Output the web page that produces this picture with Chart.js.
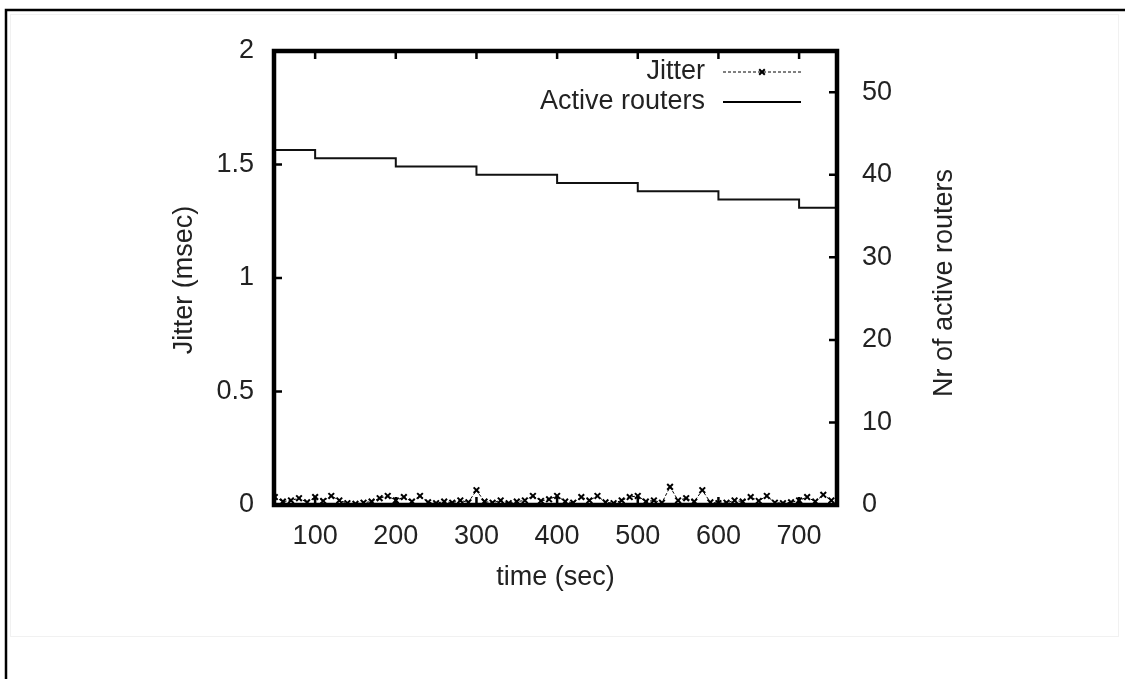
<!DOCTYPE html>
<html><head><meta charset="utf-8">
<script src="https://cdn.jsdelivr.net/npm/chart.js@4.4.0/dist/chart.umd.min.js"></script>
<style>html,body{margin:0;padding:0;background:#fff;overflow:hidden}#wrap{position:relative;width:1125px;height:679px}</style>
</head><body><div id="wrap"><canvas id="c" width="1125" height="679"></canvas></div>
<script>
// ---- data ----
const jitterTimes = [50,60,70,80,90,100,110,120,130,140,150,160,170,180,190,200,210,220,230,240,250,260,270,280,290,300,310,320,330,340,350,360,370,380,390,400,410,420,430,440,450,460,470,480,490,500,510,520,530,540,550,560,570,580,590,600,610,620,630,640,650,660,670,680,690,700,710,720,730,740];
const jitterValues = [0.035,0.015,0.02,0.03,0.012,0.035,0.018,0.04,0.02,0.008,0.005,0.01,0.015,0.03,0.04,0.02,0.035,0.015,0.04,0.012,0.008,0.015,0.01,0.02,0.012,0.065,0.015,0.01,0.02,0.008,0.015,0.02,0.04,0.018,0.025,0.04,0.015,0.01,0.035,0.02,0.04,0.012,0.008,0.02,0.035,0.04,0.015,0.02,0.01,0.08,0.02,0.03,0.015,0.065,0.012,0.008,0.01,0.02,0.015,0.035,0.018,0.04,0.01,0.008,0.012,0.02,0.035,0.015,0.045,0.02];
const routerTimes = [49,100,200,300,400,500,600,700,747];
const routerCounts = [43,42,41,40,39,38,37,36,36];
const xTickValues = [100,200,300,400,500,600,700];
const yLeftTicks = [0,0.5,1,1.5,2];
const yRightTicks = [0,10,20,30,40,50];
const seriesLabels = ['Jitter','Active routers'];
const axisTitles = {x:'time (sec)', y:'Jitter (msec)', y2:'Nr of active routers'};

const FONT = '"Liberation Sans", Arial, sans-serif';
const TXT = '#222';
const FS = 27;

const framePlugin = {
  id:'frame',
  beforeDraw(chart){
    const c = chart.ctx;
    c.save();
    c.fillStyle='#fff'; c.fillRect(0,0,chart.width,chart.height);
    c.strokeStyle='#f1f1f1'; c.lineWidth=1;
    c.strokeRect(10.5,14.5,1108,622);
    c.strokeStyle='#000'; c.lineWidth=2.5;
    c.beginPath(); c.moveTo(6,679); c.lineTo(6,10); c.lineTo(1125,10); c.stroke();
    c.restore();
  },
  afterDatasetsDraw(chart){
    const c = chart.ctx, a = chart.chartArea, s = chart.scales;
    c.save();
    c.strokeStyle='#000'; c.lineWidth=4.5;
    c.strokeRect(a.left, a.top, a.right-a.left, a.bottom-a.top);
    c.lineWidth=2.5;
    const TL=8;
    c.beginPath();
    yLeftTicks.forEach(v=>{const y=s.y.getPixelForValue(v); c.moveTo(a.left,y); c.lineTo(a.left+TL,y);});
    yRightTicks.forEach(v=>{const y=s.y2.getPixelForValue(v); c.moveTo(a.right,y); c.lineTo(a.right-TL,y);});
    xTickValues.forEach(v=>{const x=s.x.getPixelForValue(v); c.moveTo(x,a.bottom); c.lineTo(x,a.bottom-TL); c.moveTo(x,a.top); c.lineTo(x,a.top+TL);});
    c.stroke();
    // axis titles
    c.fillStyle=TXT; c.font = FS+'px '+FONT; c.textAlign='center'; c.textBaseline='middle';
    c.fillText(axisTitles.x, (a.left+a.right)/2, 578);
    c.save(); c.translate(185,(a.top+a.bottom)/2+2); c.rotate(-Math.PI/2); c.fillText(axisTitles.y,0,0); c.restore();
    c.save(); c.translate(945,(a.top+a.bottom)/2+5); c.rotate(-Math.PI/2); c.fillText(axisTitles.y2,0,0); c.restore();
    // legend (gnuplot style)
    const ly=[72,102];
    chart.data.datasets.forEach((ds,i)=>{
      c.textAlign='right'; c.fillStyle=TXT;
      c.fillText(ds.label, 705, ly[i]);
      c.strokeStyle='#000'; c.lineWidth=ds.borderWidth;
      c.setLineDash(ds.borderDash||[]);
      c.beginPath(); c.moveTo(723,ly[i]); c.lineTo(801,ly[i]); c.stroke();
      c.setLineDash([]);
      if (ds.pointRadius>0){
        const r=ds.pointRadius*0.7, x=762, y=ly[i];
        c.lineWidth=ds.pointBorderWidth;
        c.beginPath(); c.moveTo(x-r,y-r); c.lineTo(x+r,y+r); c.moveTo(x-r,y+r); c.lineTo(x+r,y-r); c.stroke();
      }
    });
    c.restore();
  }
};

const fmt = v => String(+v);

new Chart(document.getElementById('c'), {
  type:'line',
  data:{
    datasets:[
      {label:seriesLabels[0], yAxisID:'y',
       data: jitterTimes.map((t,i)=>({x:t,y:jitterValues[i]})),
       borderColor:'#000', borderWidth:1, borderDash:[3,2],
       pointStyle:'crossRot', pointRadius:4, pointBorderWidth:2, pointBorderColor:'#000', pointBackgroundColor:'#000'},
      {label:seriesLabels[1], yAxisID:'y2',
       data: routerTimes.map((t,i)=>({x:t,y:routerCounts[i]})),
       borderColor:'#111', borderWidth:2, stepped:'before', pointRadius:0}
    ]
  },
  options:{
    responsive:false, animation:false, devicePixelRatio:1,
    layout:{padding:{top:51,left:0,right:0,bottom:0}},
    plugins:{legend:{display:false}, tooltip:{enabled:false}},
    scales:{
      x:{type:'linear', position:'bottom', min:49, max:747,
         grid:{display:false, drawTicks:false}, border:{display:false},
         afterBuildTicks:s=>{s.ticks=xTickValues.map(v=>({value:v}));},
         afterFit:s=>{s.height=679-505;},
         ticks:{font:{family:FONT,size:FS}, color:TXT, padding:15, maxRotation:0, autoSkip:false, callback:fmt}},
      y:{type:'linear', position:'left', min:0, max:2,
         grid:{display:false, drawTicks:false}, border:{display:false},
         afterBuildTicks:s=>{s.ticks=yLeftTicks.map(v=>({value:v}));},
         afterFit:s=>{s.width=274;},
         ticks:{font:{family:FONT,size:FS}, color:TXT, padding:20, callback:fmt}},
      y2:{type:'linear', position:'right', min:0, max:55,
         grid:{display:false, drawTicks:false}, border:{display:false},
         afterBuildTicks:s=>{s.ticks=yRightTicks.map(v=>({value:v}));},
         afterFit:s=>{s.width=1125-837;},
         ticks:{font:{family:FONT,size:FS}, color:TXT, padding:25, callback:fmt}}
    }
  },
  plugins:[framePlugin]
});
</script>
</body></html>
